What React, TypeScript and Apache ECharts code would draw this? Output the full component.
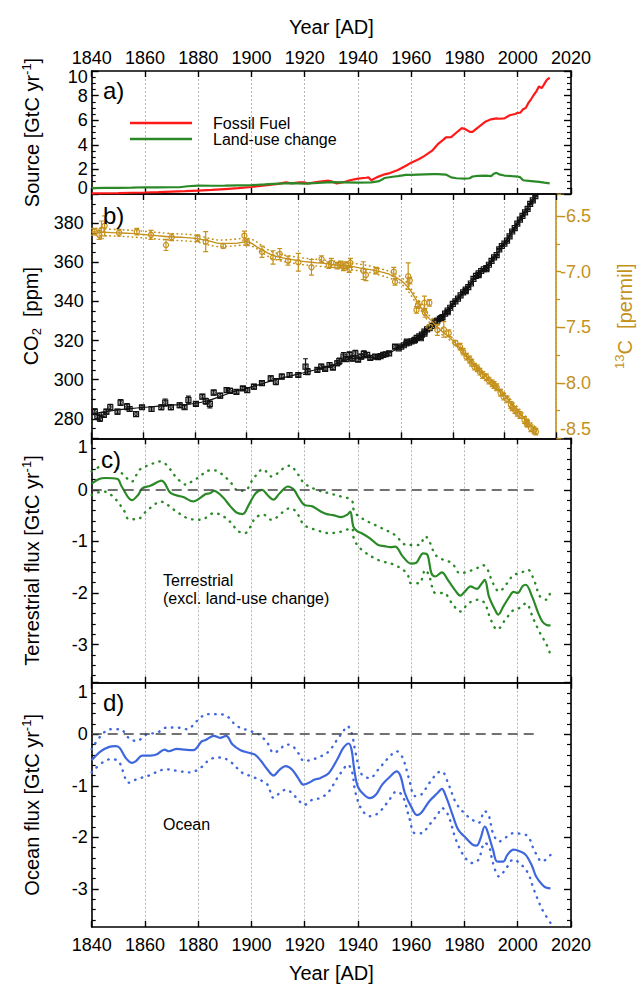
import React, { useEffect, useRef } from "react";
import * as echarts from "echarts";

// ---------------- Panel a: sources [GtC/yr] ----------------
const FF_YEARS = [1840, 1845, 1850, 1855, 1860, 1865, 1870, 1875, 1880, 1885, 1890, 1895, 1900, 1905, 1910, 1913, 1915, 1918, 1920, 1921, 1925, 1929, 1930, 1932, 1935, 1937, 1940, 1943, 1944, 1945, 1947, 1950, 1952, 1955, 1958, 1960, 1963, 1965, 1968, 1970, 1972, 1973, 1975, 1977, 1979, 1980, 1982, 1983, 1985, 1988, 1990, 1992, 1993, 1995, 1997, 1999, 2000, 2001, 2002, 2003, 2004, 2005, 2006, 2007, 2008, 2009, 2010, 2011, 2012];
const FF_VALUES = [0.05, 0.06, 0.07, 0.1, 0.12, 0.15, 0.19, 0.23, 0.28, 0.33, 0.4, 0.47, 0.57, 0.7, 0.82, 0.94, 0.87, 0.95, 0.94, 0.85, 0.98, 1.08, 1.04, 0.85, 0.98, 1.12, 1.25, 1.32, 1.35, 1.12, 1.35, 1.6, 1.7, 1.95, 2.3, 2.55, 2.85, 3.1, 3.55, 4.05, 4.4, 4.6, 4.62, 5.0, 5.35, 5.3, 5.05, 5.05, 5.4, 5.9, 6.07, 6.15, 6.12, 6.15, 6.4, 6.5, 6.6, 6.62, 6.9, 7.0, 7.4, 7.7, 8.05, 8.35, 8.75, 8.6, 8.95, 9.3, 9.45];
const LUC_YEARS = [1840, 1845, 1850, 1855, 1860, 1865, 1870, 1873, 1876, 1880, 1885, 1890, 1895, 1900, 1905, 1910, 1915, 1920, 1925, 1930, 1935, 1940, 1945, 1948, 1950, 1953, 1955, 1958, 1960, 1965, 1968, 1970, 1973, 1975, 1977, 1980, 1982, 1983, 1985, 1988, 1990, 1991, 1992, 1993, 1995, 1998, 2000, 2001, 2002, 2005, 2008, 2010, 2012];
const LUC_VALUES = [0.48, 0.49, 0.5, 0.52, 0.55, 0.54, 0.55, 0.55, 0.63, 0.68, 0.67, 0.68, 0.7, 0.72, 0.78, 0.85, 0.88, 0.85, 0.9, 0.97, 0.95, 0.92, 0.95, 1.05, 1.3, 1.4, 1.45, 1.55, 1.55, 1.6, 1.62, 1.62, 1.58, 1.35, 1.28, 1.25, 1.28, 1.42, 1.48, 1.5, 1.45, 1.65, 1.72, 1.6, 1.5, 1.45, 1.42, 1.35, 1.12, 1.05, 0.98, 0.92, 0.87];

// ---------------- Panel b: CO2 [ppm] and d13C [permil] ----------------
const CO2_FIT_YEARS = [1840, 1845, 1850, 1855, 1860, 1865, 1870, 1875, 1880, 1885, 1890, 1895, 1900, 1905, 1910, 1915, 1920, 1925, 1930, 1935, 1940, 1945, 1950, 1955, 1960, 1965, 1970, 1975, 1980, 1985, 1990, 1995, 2000, 2005, 2010, 2012];
const CO2_FIT_VALUES = [282.5, 283.5, 284.5, 285.2, 285.8, 286.3, 287.0, 287.2, 287.8, 289.2, 291.5, 293.8, 295.5, 297.5, 299.5, 301.3, 302.8, 304.5, 306.2, 308.3, 310.5, 311.2, 311.5, 313.5, 316.9, 320.1, 325.6, 331.1, 338.7, 346.1, 354.4, 360.8, 369.6, 379.8, 389.9, 393.8];
const CO2_OBS_YEARS = [1841.2, 1842.2, 1843.2, 1844.7, 1845.7, 1847.2, 1850.0, 1851.2, 1853.7, 1854.7, 1857.2, 1859.5, 1863.2, 1867.0, 1868.5, 1870.7, 1874.1, 1876.0, 1877.5, 1880.4, 1882.9, 1884.2, 1885.8, 1887.3, 1889.8, 1892.3, 1893.6, 1896.1, 1898.6, 1900.3, 1902.9, 1906.0, 1909.4, 1911.4, 1913.7, 1916.7, 1920.1, 1922.9, 1923.7, 1927.5, 1929.0, 1930.5, 1932.2, 1933.5, 1935.2, 1936.0, 1937.6, 1938.5, 1939.9, 1941.0, 1942.2, 1943.3, 1944.5, 1945.5, 1946.8, 1948.0, 1949.9, 1951.0, 1952.0, 1953.0, 1954.0, 1955.3, 1957.6, 1959, 1960, 1961, 1962, 1963, 1964, 1965, 1966, 1967, 1968, 1969, 1970, 1971, 1972, 1973, 1974, 1975, 1976, 1977, 1978, 1979, 1980, 1981, 1982, 1983, 1984, 1985, 1986, 1987, 1988, 1989, 1990, 1991, 1992, 1993, 1994, 1995, 1996, 1997, 1998, 1999, 2000, 2001, 2002, 2003, 2004, 2005, 2006, 2007, 2008, 2009, 2010, 2011, 2012, 1962.2, 1965.3, 1967.6, 1969.0, 1975.5, 1978.0, 1985.0, 1990.0, 1993.0];
const CO2_OBS_VALUES = [283.6, 281.1, 280.2, 282.0, 283.6, 285.9, 283.6, 288.3, 286.2, 285.0, 282.4, 285.9, 285.0, 285.9, 288.3, 285.9, 286.9, 285.9, 289.6, 287.6, 291.3, 289.0, 287.6, 293.4, 291.8, 294.7, 294.3, 293.8, 295.5, 294.7, 296.4, 298.2, 300.7, 299.0, 301.6, 302.4, 302.4, 306.7, 304.1, 305.0, 306.7, 305.5, 307.5, 306.2, 308.4, 309.5, 311.8, 310.5, 312.7, 310.8, 313.5, 310.2, 311.8, 313.2, 312.7, 311.2, 311.8, 311.5, 312.0, 312.7, 313.0, 313.5, 316.9, 316.0, 316.9, 317.6, 318.5, 319.0, 319.6, 320.0, 321.4, 322.2, 323.0, 324.6, 325.7, 326.3, 327.5, 329.7, 330.2, 331.1, 332.0, 333.8, 335.4, 336.8, 338.8, 340.1, 341.5, 343.1, 344.7, 346.1, 347.4, 349.2, 351.6, 353.1, 354.4, 355.6, 356.5, 357.1, 358.8, 360.8, 362.6, 363.7, 366.7, 368.4, 369.6, 371.1, 373.3, 375.8, 377.5, 379.8, 381.9, 383.8, 385.6, 387.4, 389.9, 391.7, 393.9, 319.5, 320.4, 321.2, 323.5, 331.5, 334.5, 345.3, 353.5, 356.5];
const CO2_OBS_ERR = [1.5, 1.2, 1.5, 1.2, 1.2, 1.5, 1.2, 1.5, 1.5, 1.2, 1.2, 1.0, 1.2, 1.2, 1.8, 1.2, 1.2, 1.0, 2.0, 1.0, 1.2, 1.5, 2.0, 1.2, 1.2, 1.2, 1.2, 1.0, 1.0, 1.2, 1.2, 1.0, 1.2, 1.5, 1.2, 1.2, 1.0, 4.0, 1.5, 1.0, 1.2, 1.0, 1.2, 1.0, 1.2, 1.5, 2.0, 1.2, 1.5, 1.2, 1.5, 1.0, 1.2, 1.5, 1.2, 1.0, 1.0, 1.0, 1.0, 1.0, 1.0, 1.0, 1.0, 0.3, 0.3, 0.3, 0.3, 0.3, 0.3, 0.3, 0.3, 0.3, 0.3, 0.3, 0.3, 0.3, 0.3, 0.3, 0.3, 0.3, 0.3, 0.3, 0.3, 0.3, 0.3, 0.3, 0.3, 0.3, 0.3, 0.3, 0.3, 0.3, 0.3, 0.3, 0.3, 0.3, 0.3, 0.3, 0.3, 0.3, 0.3, 0.3, 0.3, 0.3, 0.3, 0.3, 0.3, 0.3, 0.3, 0.3, 0.3, 0.3, 0.3, 0.3, 0.3, 0.3, 0.3, 0.6, 0.6, 0.6, 0.6, 0.6, 0.6, 0.6, 0.6, 0.6];

const D13_FIT_YEARS = [1840, 1845, 1850, 1855, 1860, 1865, 1870, 1875, 1880, 1885, 1890, 1895, 1900, 1905, 1910, 1915, 1920, 1925, 1930, 1935, 1940, 1945, 1950, 1955, 1960, 1963, 1966, 1969, 1972, 1975, 1980, 1985, 1990, 1995, 2000, 2005, 2010, 2012];
const D13_FIT_VALUES = [-6.64, -6.645, -6.65, -6.655, -6.665, -6.675, -6.685, -6.69, -6.70, -6.72, -6.745, -6.745, -6.73, -6.79, -6.85, -6.88, -6.90, -6.915, -6.925, -6.94, -6.95, -6.97, -6.99, -7.02, -7.08, -7.15, -7.26, -7.37, -7.45, -7.52, -7.62, -7.75, -7.88, -7.99, -8.11, -8.25, -8.38, -8.42];
const D13_HI_YEARS = [1840, 1850, 1860, 1870, 1880, 1890, 1900, 1910, 1920, 1930, 1940, 1950, 1960, 1966, 1970, 1975, 1980, 1990, 2000, 2012];
const D13_HI_VALUES = [-6.61, -6.62, -6.635, -6.655, -6.67, -6.715, -6.70, -6.82, -6.87, -6.895, -6.92, -6.96, -7.05, -7.23, -7.37, -7.49, -7.60, -7.86, -8.09, -8.40];
const D13_LO_YEARS = [1840, 1850, 1860, 1870, 1880, 1890, 1900, 1910, 1920, 1930, 1940, 1950, 1960, 1966, 1970, 1975, 1980, 1990, 2000, 2012];
const D13_LO_VALUES = [-6.67, -6.68, -6.695, -6.715, -6.73, -6.775, -6.76, -6.88, -6.93, -6.955, -6.98, -7.02, -7.11, -7.29, -7.43, -7.55, -7.64, -7.90, -8.13, -8.44];
const D13_OBS_YEARS = [1841.2, 1842.9, 1843.8, 1845.0, 1850.6, 1857.5, 1863.0, 1868.8, 1871.0, 1881.0, 1884.2, 1891.0, 1899.2, 1900.3, 1906.0, 1910.3, 1912.9, 1916.1, 1920.1, 1925.2, 1929.1, 1931.9, 1932.9, 1935.2, 1936.5, 1937.6, 1938.6, 1939.8, 1940.3, 1945.3, 1946.3, 1950.3, 1957.1, 1957.6, 1962.7, 1963.3, 1965.9, 1966.5, 1969.0, 1969.2, 1970.9, 1970.9, 1974.0, 1976.5, 1978.4, 1981.0, 1982.8, 1984.0, 1985.3, 1986.5, 1987.3, 1988.4, 1989.5, 1990.5, 1991.6, 1993.0, 1994.0, 1995.3, 1996.0, 1997.0, 1998.5, 1999.7, 2001.0, 2002.5, 2003.0, 2004.1, 2005.0, 2006.0, 2007.8, 2008.5, 2009.0, 2010.3, 2011.5, 2012.2];
const D13_OBS_VALUES = [-6.639, -6.668, -6.623, -6.587, -6.648, -6.639, -6.668, -6.759, -6.689, -6.698, -6.729, -6.768, -6.675, -6.735, -6.82, -6.871, -6.841, -6.90, -6.915, -6.96, -6.886, -6.94, -6.92, -6.945, -6.935, -6.96, -6.94, -6.975, -6.92, -6.99, -7.03, -6.99, -7.00, -7.09, -7.04, -7.08, -7.344, -7.30, -7.28, -7.37, -7.28, -7.495, -7.524, -7.52, -7.554, -7.64, -7.675, -7.72, -7.765, -7.79, -7.82, -7.855, -7.87, -7.90, -7.93, -7.95, -7.98, -8.005, -8.02, -8.04, -8.09, -8.125, -8.15, -8.20, -8.22, -8.245, -8.27, -8.29, -8.335, -8.36, -8.37, -8.41, -8.43, -8.44];
const D13_OBS_ERR = [0.03, 0.04, 0.08, 0.09, 0.03, 0.03, 0.04, 0.05, 0.03, 0.03, 0.09, 0.02, 0.04, 0.03, 0.05, 0.06, 0.05, 0.04, 0.08, 0.07, 0.03, 0.03, 0.04, 0.03, 0.03, 0.03, 0.03, 0.03, 0.04, 0.08, 0.05, 0.03, 0.04, 0.03, 0.12, 0.03, 0.03, 0.03, 0.06, 0.04, 0.03, 0.02, 0.05, 0.07, 0.03, 0.02, 0.03, 0.03, 0.03, 0.03, 0.03, 0.03, 0.03, 0.03, 0.03, 0.03, 0.03, 0.03, 0.03, 0.03, 0.03, 0.03, 0.03, 0.03, 0.03, 0.03, 0.03, 0.03, 0.03, 0.03, 0.03, 0.03, 0.03, 0.03];

// ---------------- Panel c: terrestrial flux [GtC/yr] ----------------
const TERR_YEARS = [1840, 1842.8, 1845.1, 1849.7, 1851.2, 1855.1, 1857.4, 1859, 1862, 1865.1, 1866.2, 1867.4, 1869.7, 1874.4, 1878.2, 1879.8, 1882.8, 1884.4, 1885.9, 1889, 1892.1, 1894.4, 1896.7, 1899, 1901.6, 1904, 1906, 1908.3, 1910.6, 1913.7, 1916, 1917.5, 1919.8, 1922.9, 1926, 1928.3, 1930.6, 1933.7, 1936, 1937.1, 1938.3, 1939.9, 1941.4, 1944.5, 1947.6, 1949.9, 1952.2, 1954, 1956.8, 1959.9, 1961.7, 1964.5, 1966.1, 1967.6, 1969.1, 1971.5, 1973.8, 1976.8, 1978.4, 1980.7, 1982.2, 1984.6, 1986.4, 1987.6, 1989.2, 1991.5, 1992.7, 1994.6, 1996.9, 1998.4, 2000, 2001.8, 2003, 2005.4, 2007.7, 2009.2, 2010.8, 2012.3];
const TERR_MID = [0.12, 0.21, 0.23, 0.21, 0.07, -0.2, -0.1, 0.03, 0.08, 0.16, 0.18, 0.13, -0.065, -0.14, -0.225, -0.19, -0.08, -0.065, -0.02, -0.13, -0.32, -0.44, -0.47, -0.29, -0.065, 0.0, -0.1, -0.19, -0.065, 0.065, 0.0, -0.13, -0.29, -0.32, -0.42, -0.47, -0.49, -0.53, -0.48, -0.42, -0.72, -0.81, -0.84, -0.94, -1.07, -1.09, -1.11, -1.1, -1.29, -1.43, -1.42, -1.23, -1.26, -1.62, -1.68, -1.6, -1.75, -1.97, -2.05, -1.94, -1.87, -1.92, -1.82, -1.745, -2.07, -2.33, -2.42, -2.26, -2.07, -1.98, -2.0, -1.87, -1.84, -2.07, -2.39, -2.55, -2.62, -2.63];
const TERR_HI_YEARS = [1840, 1843, 1846.3, 1849.4, 1852.5, 1855, 1858, 1862, 1865.7, 1868, 1872, 1875.6, 1878, 1880.7, 1883, 1885.9, 1889, 1892.1, 1895.2, 1898, 1900.5, 1904.4, 1907.5, 1912.1, 1914.4, 1916.7, 1919.8, 1924.5, 1929.1, 1933.7, 1937.6, 1938.6, 1941.4, 1947.6, 1953.7, 1958.4, 1963, 1965.3, 1966.8, 1969.1, 1972.2, 1975.3, 1978.4, 1981.5, 1984.6, 1986.9, 1988.4, 1990.7, 1993, 1996, 1998.4, 2000.7, 2003.8, 2006.1, 2008.4, 2010.8, 2012.3];
const TERR_HI = [0.36, 0.45, 0.5, 0.42, 0.26, 0.16, 0.39, 0.49, 0.55, 0.49, 0.23, 0.1, 0.18, 0.26, 0.36, 0.38, 0.3, 0.15, -0.02, 0.0, 0.2, 0.4, 0.26, 0.42, 0.47, 0.36, 0.13, 0.0, -0.065, -0.13, -0.2, -0.42, -0.55, -0.71, -0.87, -1.07, -1.07, -0.9, -1.0, -1.26, -1.36, -1.42, -1.62, -1.58, -1.52, -1.46, -1.52, -1.81, -1.97, -1.81, -1.65, -1.62, -1.55, -1.75, -2.07, -2.13, -1.97];
const TERR_LO_YEARS = [1840, 1844.4, 1848, 1852, 1854, 1857, 1861, 1866, 1871, 1876, 1881, 1886, 1889, 1892, 1895, 1897.5, 1900, 1901.3, 1904.4, 1907.5, 1912.1, 1914.4, 1916.7, 1919.8, 1924.5, 1929.1, 1933.7, 1937.6, 1938.6, 1941.4, 1947.6, 1953.7, 1958.4, 1959.9, 1963, 1965.3, 1966.8, 1969.1, 1972.2, 1975.3, 1978.4, 1981.5, 1985.3, 1987.6, 1989.9, 1992.3, 1995.3, 1998.4, 2000.7, 2003, 2006, 2008.4, 2010.8, 2012.3];
const TERR_LO = [-0.1, -0.03, -0.13, -0.39, -0.57, -0.57, -0.39, -0.23, -0.39, -0.55, -0.58, -0.45, -0.5, -0.62, -0.8, -0.84, -0.68, -0.55, -0.48, -0.58, -0.42, -0.355, -0.42, -0.68, -0.78, -0.84, -0.81, -0.745, -0.97, -1.16, -1.36, -1.455, -1.62, -1.81, -1.81, -1.55, -1.68, -2.0, -2.0, -2.2, -2.36, -2.2, -2.13, -2.2, -2.52, -2.71, -2.52, -2.33, -2.29, -2.2, -2.52, -2.78, -3.0, -3.2];

// ---------------- Panel d: ocean flux [GtC/yr] ----------------
const OCEAN_YEARS = [1840, 1843.5, 1846.6, 1848.9, 1850.5, 1852.8, 1855.1, 1856.6, 1859, 1862, 1864.3, 1867.4, 1869, 1872, 1875.1, 1878.2, 1881.3, 1882.8, 1885.9, 1888.2, 1890.5, 1892.9, 1895.9, 1899, 1901.3, 1903.6, 1906, 1908.3, 1910.6, 1912.9, 1915.2, 1917.5, 1919.5, 1921.4, 1923.7, 1926, 1929.1, 1932.2, 1934.5, 1936.5, 1937.6, 1938.6, 1939.9, 1942.2, 1944.5, 1946.8, 1949.1, 1952.2, 1954.5, 1956, 1957.6, 1959.9, 1962.2, 1963.7, 1966.8, 1969.9, 1971.5, 1973, 1975.3, 1977.6, 1979.9, 1983, 1984.6, 1986.1, 1987.6, 1988.4, 1990.7, 1992.3, 1994.6, 1996.1, 1998.4, 2000.7, 2003, 2005.4, 2006.9, 2009.2, 2010.8, 2012.3];
const OCEAN_MID = [-0.505, -0.33, -0.245, -0.23, -0.265, -0.46, -0.555, -0.52, -0.415, -0.415, -0.395, -0.3, -0.33, -0.285, -0.3, -0.31, -0.14, -0.11, -0.03, -0.07, -0.03, -0.2, -0.31, -0.36, -0.395, -0.52, -0.685, -0.8, -0.685, -0.62, -0.685, -0.847, -0.977, -0.945, -0.88, -0.847, -0.75, -0.49, -0.265, -0.18, -0.3, -0.685, -1.01, -1.17, -1.24, -1.17, -0.977, -0.815, -0.72, -0.815, -1.14, -1.4, -1.57, -1.53, -1.3, -1.14, -1.06, -1.2, -1.53, -1.85, -1.98, -2.14, -2.16, -2.01, -1.79, -1.85, -2.24, -2.47, -2.47, -2.34, -2.24, -2.27, -2.34, -2.56, -2.76, -2.92, -2.98, -2.99];
const OCEAN_HI_YEARS = [1840, 1846.9, 1850.6, 1854.4, 1856.9, 1860.7, 1864.5, 1868.2, 1872, 1875.8, 1879.6, 1883.2, 1887, 1890.7, 1894.5, 1899.8, 1902.9, 1906, 1908.3, 1910.6, 1912.9, 1915.2, 1917.5, 1919.8, 1922.9, 1926, 1929.1, 1932.2, 1934.5, 1936, 1937.6, 1939.1, 1941.4, 1944.5, 1947.6, 1951.4, 1954.5, 1956.8, 1959.1, 1961.4, 1963.8, 1966.8, 1969.9, 1971.5, 1973.8, 1976.8, 1979.9, 1983, 1985.3, 1987.6, 1989.2, 1990.7, 1993, 1995.3, 1998.4, 2000.7, 2003.8, 2006.1, 2009.2, 2012.3];
const OCEAN_HI = [-0.29, 0.097, 0.097, -0.097, -0.13, 0.0, 0.03, 0.13, 0.13, 0.097, 0.26, 0.39, 0.39, 0.355, 0.16, 0.058, -0.008, -0.17, -0.36, -0.3, -0.2, -0.22, -0.36, -0.52, -0.49, -0.43, -0.33, -0.104, 0.06, 0.16, 0.03, -0.36, -0.78, -0.85, -0.685, -0.46, -0.33, -0.46, -0.85, -1.2, -1.17, -0.945, -0.75, -0.72, -0.945, -1.33, -1.53, -1.66, -1.72, -1.49, -1.59, -1.92, -2.08, -2.01, -1.92, -1.93, -1.98, -2.24, -2.47, -2.34];
const OCEAN_LO_YEARS = [1840, 1846.9, 1850, 1854, 1857, 1861, 1868, 1872, 1877, 1881, 1884.5, 1888.5, 1892.5, 1896.3, 1899.8, 1902.9, 1906, 1908.3, 1910.6, 1912.9, 1915.2, 1917.5, 1919.8, 1922.9, 1926, 1929.1, 1932.2, 1934.5, 1936, 1937.6, 1939.1, 1941.4, 1944.5, 1947.6, 1951.4, 1954.5, 1956.8, 1959.1, 1961.4, 1963.8, 1966.8, 1969.9, 1971.5, 1973.8, 1976.8, 1979.9, 1983, 1985.3, 1987.6, 1989.2, 1990.7, 1993, 1995.3, 1998.4, 2000.7, 2003.8, 2006.1, 2009.2, 2012.3];
const OCEAN_LO = [-0.74, -0.485, -0.52, -0.94, -0.87, -0.81, -0.68, -0.71, -0.74, -0.647, -0.485, -0.45, -0.55, -0.74, -0.815, -0.88, -0.977, -1.235, -1.14, -1.075, -1.14, -1.27, -1.37, -1.27, -1.235, -1.11, -0.85, -0.685, -0.59, -0.685, -1.14, -1.46, -1.59, -1.53, -1.3, -1.11, -1.2, -1.59, -1.92, -1.92, -1.755, -1.56, -1.43, -1.56, -2.05, -2.37, -2.5, -2.43, -2.11, -2.17, -2.5, -2.76, -2.63, -2.43, -2.5, -2.69, -3.02, -3.4, -3.66];

// ---------------- tick positions ----------------
const CO2_MAJOR = [280, 300, 320, 340, 360, 380];
const CO2_MINOR = [275, 285, 290, 295, 305, 310, 315, 325, 330, 335, 345, 350, 355, 365, 370, 375, 385, 390];
const FLUX_MAJOR = [-3, -2, -1, 0, 1];
const FLUX_MINOR = [-3.6, -3.4, -3.2, -2.8, -2.6, -2.4, -2.2, -1.8, -1.6, -1.4, -1.2, -0.8, -0.6, -0.4, -0.2, 0.2, 0.4, 0.6, 0.8];

const FONT = "'Liberation Sans', Arial, Helvetica, sans-serif";
const GOLD = "#C4911C";
const RED = "#FF1A1A";
const GREEN = "#2B8A27";
const BLUE = "#3F67DD";

const zip = (xs: number[], ys: number[]) => xs.map((x, i) => [x, ys[i]]);
const zip3 = (xs: number[], ys: number[], es: number[]) => xs.map((x, i) => [x, ys[i], es[i]]);

const GRID_LEFT = 91.7;
const GRID_W = 479.3;

function xAxis(gridIndex: number, position: string, extra: any = {}) {
  return {
    type: "value", gridIndex, position, min: 1840, max: 2020, interval: 20,
    axisLine: { show: true, onZero: false, lineStyle: { color: "#000", width: 1.6 } },
    axisTick: { show: true, inside: true, length: 6, lineStyle: { color: "#000", width: 1.4 } },
    axisLabel: { show: false },
    splitLine: { show: false },
    ...extra,
  };
}

const labelStyle = { fontSize: 18, fontFamily: FONT, color: "#000" };

function nameStyle(color = "#000") {
  return {
    fontFamily: FONT, fontSize: 20, color,
    rich: {
      n: { fontFamily: FONT, fontSize: 20, lineHeight: 24, color },
      s: { fontFamily: FONT, fontSize: 13, lineHeight: 13, verticalAlign: "top", color },
      b: { fontFamily: FONT, fontSize: 13, lineHeight: 13, verticalAlign: "bottom", color },
    },
  };
}

function fluxAxes(gridIndex: number, name: string) {
  const base = { type: "value", gridIndex, min: -3.74, max: 1 };
  const line = { show: true, onZero: false, lineStyle: { color: "#000", width: 1.6 } };
  return [
    {
      ...base, position: "left", axisLine: line,
      axisTick: { show: true, inside: true, length: 7, customValues: FLUX_MAJOR, lineStyle: { color: "#000", width: 1.4 } },
      axisLabel: { ...labelStyle, margin: 4, customValues: FLUX_MAJOR, showMaxLabel: true, verticalAlignMaxLabel: "top" },
      splitLine: { show: false },
      name, nameLocation: "middle", nameRotate: 90, nameGap: 48, nameTextStyle: nameStyle(),
    },
    {
      ...base, position: "left", axisLine: { show: false },
      axisTick: { show: true, inside: true, length: 4, customValues: FLUX_MINOR, lineStyle: { color: "#000", width: 1.2 } },
      axisLabel: { show: false }, splitLine: { show: false },
    },
    {
      ...base, position: "right", axisLine: line,
      axisTick: { show: true, inside: true, length: 7, customValues: FLUX_MAJOR, lineStyle: { color: "#000", width: 1.4 } },
      axisLabel: { show: false }, splitLine: { show: false },
    },
    {
      ...base, position: "right", axisLine: { show: false },
      axisTick: { show: true, inside: true, length: 4, customValues: FLUX_MINOR, lineStyle: { color: "#000", width: 1.2 } },
      axisLabel: { show: false }, splitLine: { show: false },
    },
  ];
}

function errorBarSeries(name: string, data: number[][], xi: number, yi: number, color: string, shape: "square" | "circle") {
  return {
    name, type: "custom", xAxisIndex: xi, yAxisIndex: yi, clip: true, z: 3,
    data,
    encode: { x: 0, y: 1 },
    renderItem: (params: any, api: any) => {
      const x = api.value(0), y = api.value(1), e = api.value(2);
      const p = api.coord([x, y]);
      const hi = api.coord([x, y + e]);
      const lo = api.coord([x, y - e]);
      const st = { stroke: color, lineWidth: 1.2, fill: "none" };
      const children: any[] = [
        { type: "line", shape: { x1: p[0], y1: hi[1], x2: p[0], y2: lo[1] }, style: st },
        { type: "line", shape: { x1: p[0] - 2.5, y1: hi[1], x2: p[0] + 2.5, y2: hi[1] }, style: st },
        { type: "line", shape: { x1: p[0] - 2.5, y1: lo[1], x2: p[0] + 2.5, y2: lo[1] }, style: st },
      ];
      if (shape === "square") {
        children.push({ type: "rect", shape: { x: p[0] - 2.5, y: p[1] - 2.5, width: 5, height: 5 }, style: st });
        children.push({ type: "circle", shape: { cx: p[0], cy: p[1], r: 1.6 }, style: { stroke: color, lineWidth: 0.8, fill: "none" } });
      } else {
        children.push({ type: "circle", shape: { cx: p[0], cy: p[1], r: 2.6 }, style: st });
      }
      return { type: "group", children };
    },
  };
}

function lineSeries(name: string, data: number[][], xi: number, yi: number, color: string, width: number, dotted = false, extra: any = {}) {
  return {
    name, type: "line", xAxisIndex: xi, yAxisIndex: yi, data, showSymbol: false, symbol: "none",
    smooth: 0.35, clip: true,
    lineStyle: { color, width, type: dotted ? [0.5, 6.5] : "solid", cap: dotted ? "round" : "butt" },
    itemStyle: { color },
    ...extra,
  };
}

const zeroLine = {
  silent: true, symbol: "none", label: { show: false },
  lineStyle: { color: "#444", width: 1.5, type: [10, 6] },
  data: [[{ coord: [1840, 0] }, { coord: [2008, 0] }]],
};

function buildOption() {
  const grids = [
    { left: GRID_LEFT, width: GRID_W, top: 71, height: 123 },
    { left: GRID_LEFT, width: GRID_W, top: 194, height: 244.3 },
    { left: GRID_LEFT, width: GRID_W, top: 438.3, height: 244.4 },
    { left: GRID_LEFT, width: GRID_W, top: 682.7, height: 244.6 },
  ];
  const split = { show: true, lineStyle: { color: "#b5b5b5", width: 1, type: [2, 2] } };
  const yearFmt = (v: number) => String(v);
  const xAxes = [
    xAxis(0, "top", {
      axisLabel: { ...labelStyle, margin: 4, formatter: yearFmt },
      name: "Year [AD]", nameLocation: "middle", nameGap: 34, nameTextStyle: { fontFamily: FONT, fontSize: 20, color: "#000" },
    }),
    xAxis(0, "bottom", { splitLine: split }),
    xAxis(1, "top"),
    xAxis(1, "bottom", { splitLine: split }),
    xAxis(2, "top"),
    xAxis(2, "bottom", { splitLine: split }),
    xAxis(3, "top"),
    xAxis(3, "bottom", {
      splitLine: split,
      axisLabel: { ...labelStyle, margin: 9, formatter: yearFmt },
      name: "Year [AD]", nameLocation: "middle", nameGap: 36, nameTextStyle: { fontFamily: FONT, fontSize: 20, color: "#000" },
    }),
  ];
  const blackLine = { show: true, onZero: false, lineStyle: { color: "#000", width: 1.6 } };
  const yAxes: any[] = [
    {
      type: "value", gridIndex: 0, position: "left", min: 0, max: 10, interval: 2,
      axisLine: blackLine,
      axisTick: { show: true, inside: true, length: 7, lineStyle: { color: "#000", width: 1.4 } },
      minorTick: { show: true, splitNumber: 4, length: 4, lineStyle: { color: "#000", width: 1.2 } },
      axisLabel: { ...labelStyle, lineHeight: 12, margin: 4, hideOverlap: false, showMinLabel: true, showMaxLabel: true, verticalAlignMinLabel: "bottom", verticalAlignMaxLabel: "top" },
      splitLine: { show: false },
      name: "{n|Source [GtC yr}{s|-1}{n|]}", nameLocation: "middle", nameRotate: 90, nameGap: 48, nameTextStyle: nameStyle(),
    },
    {
      type: "value", gridIndex: 0, position: "right", min: 0, max: 10, interval: 2,
      axisLine: blackLine,
      axisTick: { show: true, inside: true, length: 7, lineStyle: { color: "#000", width: 1.4 } },
      minorTick: { show: true, splitNumber: 4, length: 4, lineStyle: { color: "#000", width: 1.2 } },
      axisLabel: { show: false }, splitLine: { show: false },
    },
    {
      type: "value", gridIndex: 1, position: "left", min: 270, max: 395,
      axisLine: blackLine,
      axisTick: { show: true, inside: true, length: 7, customValues: CO2_MAJOR, lineStyle: { color: "#000", width: 1.4 } },
      axisLabel: { ...labelStyle, margin: 8, customValues: CO2_MAJOR },
      splitLine: { show: false },
      name: "{n|CO}{b|2}{n|  [ppm]}", nameLocation: "middle", nameRotate: 90, nameGap: 48, nameTextStyle: nameStyle(),
    },
    {
      type: "value", gridIndex: 1, position: "left", min: 270, max: 395,
      axisLine: { show: false },
      axisTick: { show: true, inside: true, length: 4, customValues: CO2_MINOR, lineStyle: { color: "#000", width: 1.2 } },
      axisLabel: { show: false }, splitLine: { show: false },
    },
    {
      type: "value", gridIndex: 1, position: "right", min: -8.5, max: -6.3, interval: 0.5,
      axisLine: { show: true, onZero: false, lineStyle: { color: GOLD, width: 1.6 } },
      axisTick: { show: true, inside: false, length: 5, lineStyle: { color: GOLD, width: 1.4 } },
      minorTick: { show: true, splitNumber: 2, length: 4, lineStyle: { color: GOLD, width: 1.2 } },
      axisLabel: { ...labelStyle, color: GOLD, margin: 4, formatter: (v: number) => v.toFixed(1), showMinLabel: true, showMaxLabel: false, verticalAlignMinLabel: "bottom" },
      splitLine: { show: false },
      name: "{s|13}{n|C  [permil]}", nameLocation: "middle", nameRotate: 90, nameGap: 57, nameTextStyle: nameStyle(GOLD),
    },
    ...fluxAxes(2, "{n|Terrestrial flux [GtC yr}{s|-1}{n|]}"),
    ...fluxAxes(3, "{n|Ocean flux [GtC yr}{s|-1}{n|]}"),
  ];

  const series: any[] = [
    lineSeries("Fossil Fuel", zip(FF_YEARS, FF_VALUES), 1, 0, RED, 2.2, false, { smooth: false }),
    lineSeries("Land-use change", zip(LUC_YEARS, LUC_VALUES), 1, 0, GREEN, 2.2, false, { smooth: false }),

    lineSeries("CO2 fit", zip(CO2_FIT_YEARS, CO2_FIT_VALUES), 3, 2, "#111", 1.2),
    errorBarSeries("CO2 obs", zip3(CO2_OBS_YEARS, CO2_OBS_VALUES, CO2_OBS_ERR), 3, 2, "#111", "square"),
    lineSeries("d13C fit", zip(D13_FIT_YEARS, D13_FIT_VALUES), 3, 4, GOLD, 1.4),
    lineSeries("d13C hi", zip(D13_HI_YEARS, D13_HI_VALUES), 3, 4, GOLD, 1.6, true, { lineStyle: { color: GOLD, width: 1.6, type: [0.5, 4], cap: "round" } }),
    lineSeries("d13C lo", zip(D13_LO_YEARS, D13_LO_VALUES), 3, 4, GOLD, 1.6, true, { lineStyle: { color: GOLD, width: 1.6, type: [0.5, 4], cap: "round" } }),
    errorBarSeries("d13C obs", zip3(D13_OBS_YEARS, D13_OBS_VALUES, D13_OBS_ERR), 3, 4, GOLD, "circle"),

    lineSeries("Terrestrial", zip(TERR_YEARS, TERR_MID), 5, 5, GREEN, 2.2, false, { markLine: zeroLine }),
    lineSeries("Terrestrial hi", zip(TERR_HI_YEARS, TERR_HI), 5, 5, GREEN, 2.4, true),
    lineSeries("Terrestrial lo", zip(TERR_LO_YEARS, TERR_LO), 5, 5, GREEN, 2.4, true),

    lineSeries("Ocean", zip(OCEAN_YEARS, OCEAN_MID), 7, 9, BLUE, 2.2, false, { markLine: zeroLine }),
    lineSeries("Ocean hi", zip(OCEAN_HI_YEARS, OCEAN_HI), 7, 9, BLUE, 2.4, true),
    lineSeries("Ocean lo", zip(OCEAN_LO_YEARS, OCEAN_LO), 7, 9, BLUE, 2.4, true),
  ];

  const panelLabel = (text: string, left: number, top: number) => ({
    type: "text", left, top, z: 100,
    style: { text, fontFamily: FONT, fontSize: 24, fill: "#000" },
  });

  return {
    animation: false,
    backgroundColor: "#fff",
    textStyle: { fontFamily: FONT, color: "#000" },
    grid: grids,
    xAxis: xAxes,
    yAxis: yAxes,
    legend: {
      data: ["Fossil Fuel", "Land-use change"],
      orient: "vertical", left: 125, top: 110,
      icon: "rect", itemWidth: 62, itemHeight: 2.5, itemGap: 0,
      textStyle: { fontFamily: FONT, fontSize: 16, color: "#000", padding: [0, 0, 0, 16] },
      selectedMode: false,
    },
    graphic: [
      panelLabel("a)", 103, 78),
      panelLabel("b)", 103, 203),
      panelLabel("c)", 101, 447),
      panelLabel("d)", 103, 690),
      {
        type: "text", left: 163, top: 571, z: 100,
        style: { text: "Terrestrial\n(excl. land-use change)", fontFamily: FONT, fontSize: 16, lineHeight: 18, fill: "#000" },
      },
      {
        type: "text", left: 163, top: 816, z: 100,
        style: { text: "Ocean", fontFamily: FONT, fontSize: 16, fill: "#000" },
      },
    ],
    series,
  };
}

export default function App() {
  const ref = useRef<HTMLDivElement>(null);
  useEffect(() => {
    if (!ref.current) return;
    const chart = echarts.init(ref.current, undefined, { renderer: "svg" });
    chart.setOption(buildOption() as any);
    return () => chart.dispose();
  }, []);
  return <div ref={ref} style={{ position: "absolute", left: 0, top: 0, width: 643, height: 984, background: "#fff" }} />;
}
